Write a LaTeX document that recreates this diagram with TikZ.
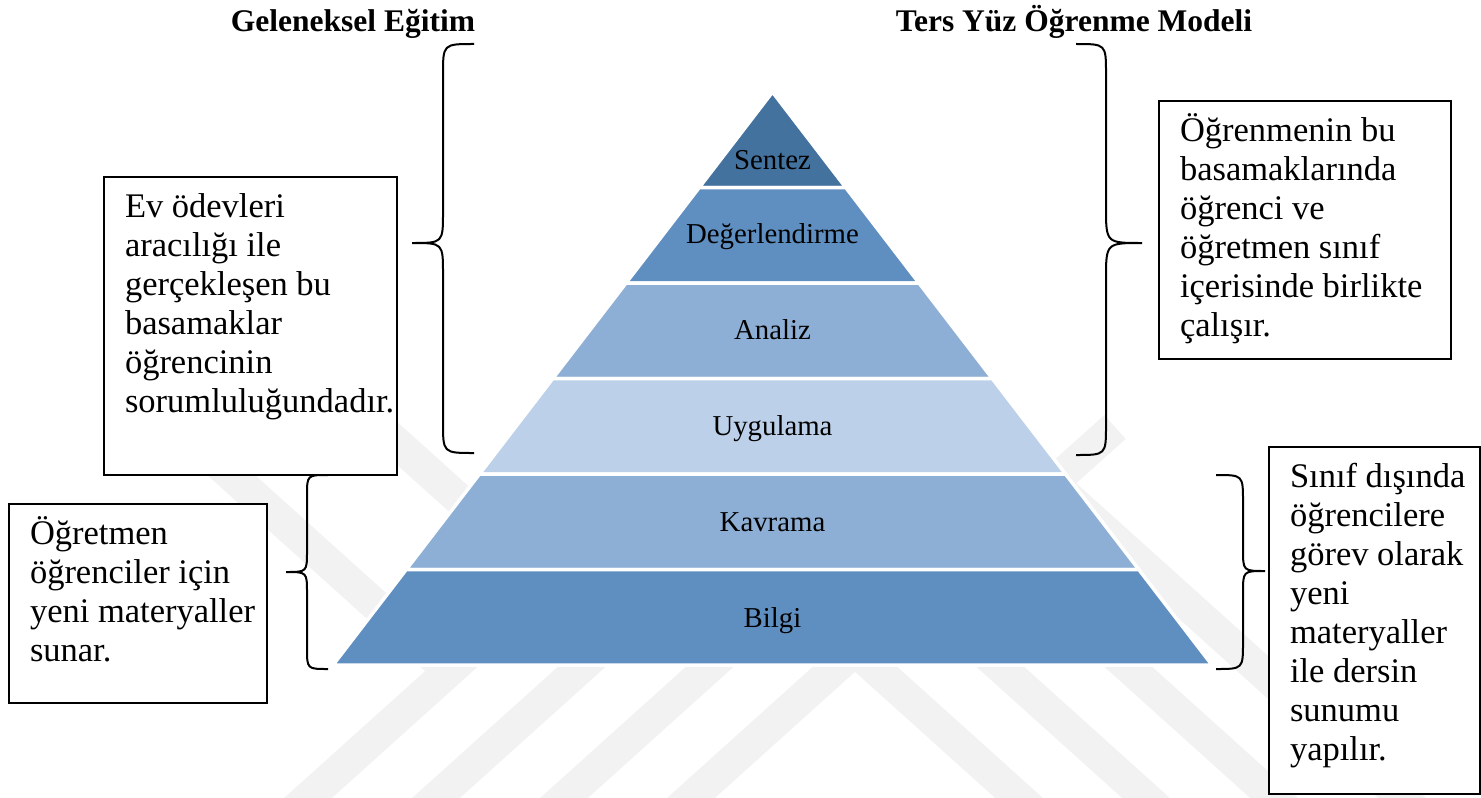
\documentclass[tikz,border=0pt]{standalone}
\usepackage{fontspec}
\setmainfont{Liberation Serif}
\usetikzlibrary{calc}
\definecolor{sentezblue}{HTML}{44729E}
\definecolor{midblue}{HTML}{5F8EC0}
\definecolor{softblue}{HTML}{8EAFD5}
\definecolor{paleblue}{HTML}{BCD0E9}
\def\notebody#1#2#3{\parbox[t][#2][t]{#1}{\raggedright\leftskip=10.5pt\rule{0pt}{20pt}#3}}
\def\curly(#1,#2,#3,#4,#5,#6){\draw[line width=1pt] (#1,#2) .. controls (#4,#2) .. (#4,{#2+abs(#1-#4)}) -- (#4,{#6-abs(#5-#4)}) .. controls (#4,#6) .. (#5,#6) .. controls (#4,#6) .. (#4,{#6+abs(#5-#4)}) -- (#4,{#3-abs(#1-#4)}) .. controls (#4,#3) .. (#1,#3);}

\begin{document}
\begin{tikzpicture}[x=0.5pt,y=-0.5pt,
		note/.style={draw, fill=white, line width=1pt, inner sep=0pt, anchor=north west, font=\fontsize{17.25}{19.5}\selectfont},
		title/.style={anchor=base, font=\fontsize{15.75}{18}\selectfont\bfseries},
		levellabel/.style={anchor=base, font=\fontsize{14.4}{16}\selectfont},
		watermark/.style={draw=black!5, line width=16pt}]
			%%%%% START %%%%%
			\useasboundingbox (0,0) rectangle (1481,797);
			
			% faint watermark stripes
			\begin{scope}
				\clip (0,0) rectangle (1481,797);
				\foreach \d in {163,290,418,546}
					\draw[watermark] ({855-\d-111},897) -- (855,{797-0.9*\d}) -- ({855+\d+111},897);
				\draw[watermark] (150,402) -- (450,672);
				\draw[watermark] (360,410) -- (560,590);
				\draw[watermark] (980,548) -- (1115,427);
			\end{scope}
			
			\node[title] (classic) at (353,32) {Geleneksel Eğitim};
			\node[title] (flipped) at (1074,32) {Ters Yüz Öğrenme Modeli};
			
			% pyramid, apex (772.5,92), base y=665
			\foreach \col/\ya/\yb in {sentezblue/92/187.5, midblue/187.5/283, softblue/283/378.5, paleblue/378.5/474, softblue/474/569.5, midblue/569.5/665}
				\filldraw[fill=\col, draw=white, line width=1.75pt] ({772.5-0.76702*(\ya-92)},\ya) -- ({772.5+0.76702*(\ya-92)},\ya) -- ({772.5+0.76702*(\yb-92)},\yb) -- ({772.5-0.76702*(\yb-92)},\yb) -- cycle;
			
			\foreach \lbl/\yl [count=\i] in {Sentez/169, Değerlendirme/243, Analiz/339, Uygulama/435, Kavrama/531, Bilgi/627}
				\node[levellabel] (level\i) at (772.5,\yl) {\lbl};
			
			\node[note] (homework) at (103,176) {\notebody{146.5pt}{149pt}{Ev ödevleri\\aracılığı ile\\gerçekleşen bu\\basamaklar\\öğrencinin\\sorumluluğundadır.}};
			\node[note] (together) at (1158,100) {\notebody{146pt}{129pt}{Öğrenmenin bu\\basamaklarında\\öğrenci ve\\öğretmen sınıf\\içerisinde birlikte\\çalışır.}};
			\node[note] (teacher) at (8,503) {\notebody{129pt}{99.5pt}{Öğretmen\\öğrenciler için\\yeni materyaller\\sunar.}};
			\node[note] (outside) at (1268,446) {\notebody{105.5pt}{173.5pt}{Sınıf dışında\\öğrencilere\\görev olarak\\yeni\\materyaller\\ile dersin\\sunumu\\yapılır.}};
			
			% braces
			\curly(474,44,453,443,412,243)
			\curly(1076,44,455,1106,1142,243)
			\curly(328,475,669,307,286,572)
			\curly(1216,475,669,1243,1265,571)
			
			%%%%% END %%%%%
\end{tikzpicture}
\end{document}
